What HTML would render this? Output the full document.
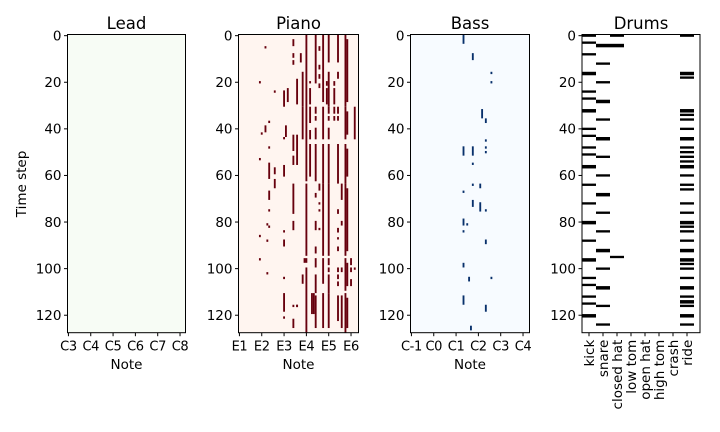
<!DOCTYPE html>
<html><head><meta charset="utf-8"><style>
html,body{margin:0;padding:0;background:#fff;}
svg{display:block;font-family:"DejaVu Sans","Liberation Sans",sans-serif;}
</style></head><body>
<svg id="chart" width="720" height="432" viewBox="0 0 720 432" xmlns="http://www.w3.org/2000/svg"></svg>
<script>
// ---- data ----
const yTicks = [0,20,40,60,80,100,120];
const leadTickLabels = ["C3","C4","C5","C6","C7","C8"];
const leadTickPitches = [48,60,72,84,96,108];
const pianoTickLabels = ["E1","E2","E3","E4","E5","E6"];
const pianoTickPitches = [28,40,52,64,76,88];
const bassTickLabels = ["C-1","C0","C1","C2","C3","C4"];
const bassTickPitches = [0,12,24,36,48,60];
const drumLabels = ["kick","snare","closed hat","low tom","open hat","high tom","crash","ride"];
const leadNotes = [];
// piano notes: [pitch, startRow, endRow]
const pianoNotes = [
[57,2,4],[57,8,9],[57,11,12],[57,43,49],[57,52,55],[57,64,76],[57,80,83],[57,116,116],[57,122,125],
[59,19,29],[59,43,43],[59,44,55],[59,116,116],
[61,8,11],[62,16,30],[62,31,44],[62,103,106],[63,96,97],
[64,0,62],[64,64,94],[64,96,97],[64,100,127],
[66,20,20],[66,23,29],[66,31,37],[66,41,44],[66,47,60],
[68,111,119],[67,111,119],
[69,0,20],[69,31,33],[69,35,36],[69,40,44],[69,47,62],[69,68,69],[69,80,83],[69,91,93],[69,96,99],[69,103,110],[69,112,125],
[71,5,6],[71,13,14],[71,17,18],[71,21,22],[71,64,66],[71,72,72],[71,75,75],[71,83,83],
[73,0,28],[73,31,44],[73,47,63],[73,64,94],[73,96,106],[73,111,125],
[75,20,21],[75,23,29],
[76,0,11],[76,16,30],[76,31,33],[76,35,36],[76,40,44],[76,47,63],[76,64,94],[76,96,98],[76,100,101],[76,103,110],[76,111,125],
[79,20,21],[79,23,29],[79,31,33],[79,35,36],
[81,0,11],[81,16,18],[81,31,33],[81,35,36],[81,47,63],[81,75,76],[81,83,84],[81,87,87],[81,91,92],[81,100,101],[81,103,104],[81,106,107],[81,112,122],
[83,64,70],[83,80,81],[83,100,101],[83,112,125],
[85,0,30],[86,2,28],[85,31,44],[86,33,42],[85,47,63],[86,49,60],[85,64,94],[86,66,92],[85,96,109],[86,98,107],[85,111,127],[86,113,125],
[88,96,98],[88,100,101],[88,105,107],
[90,31,44],[90,100,100],
[42,5,5],[39,20,20],[47,24,24],[44,37,37],[42,39,41],[40,42,42],[52,24,30],[54,23,28],[53,39,43],[52,44,44],
[44,48,48],[39,53,53],[44,55,61],[47,57,59],[52,56,60],[47,62,65],[44,67,70],[44,75,75],
[43,81,81],[44,82,82],[39,86,86],[43,88,88],[39,96,96],[43,102,102],[52,84,84],[52,88,90],[52,104,104],[52,111,118],[52,121,121],[59,116,116]
];
// bass notes: [pitch, startRow, endRow]
const bassNotes = [
[28,0,3],[33,8,10],[43,16,16],[43,20,20],[38,32,35],[40,36,37],[40,45,45],[40,48,48],[28,48,51],[33,48,51],[40,50,50],
[33,55,55],[33,64,64],[37,64,65],[28,67,67],[33,71,73],[37,72,75],[40,75,75],[28,79,81],[30,81,81],[28,84,84],
[40,88,89],[28,98,99],[31,104,105],[43,104,104],[28,112,115],[40,116,118],[32,125,126]
];
// drum hits: [drumIndex, startRow, endRow]
const drumHits = [
[0,0,0],[0,3,3],[0,8,8],[0,16,16.5],[0,24,24],[0,27,27],[0,32,32.5],[0,40,40],[0,43,43],[0,48,48],[0,51,51],[0,56,56.5],
[0,64,64],[0,72,72],[0,80,80.5],[0,88,88],[0,96,96.5],[0,104,104],[0,107,107],[0,112,112],[0,115,115],[0,120,120.5],
[1,4,4.5],[1,12,12],[1,20,20],[1,28,28.5],[1,36,36],[1,44,44.5],[1,52,52],[1,60,60],[1,68,68.5],[1,76,76],[1,84,84],[1,92,92.5],[1,100,100],[1,108,108.5],[1,116,116],[1,124,124],
[2,0,0],[2,4,4.5],[2,95,95],
[7,0,0],[7,16,16.5],[7,18,18],[7,32,32.5],[7,34,34],[7,36,36],[7,40,40],[7,44,44.5],[7,48,48],[7,50,50],[7,52,52],[7,54,54],[7,56,56.5],[7,60,60],
[7,64,64],[7,66,66],[7,72,72],[7,76,76],[7,80,80.5],[7,82,82],[7,84,84],[7,88,88],[7,92,92.5],[7,96,96.5],[7,98,98],[7,100,100],[7,104,104],
[7,108,108.5],[7,112,112],[7,114,114.5],[7,116,116],[7,120,120.5],[7,124,124]
];

// ---- layout ----
const svg = document.getElementById('chart');
const NS = 'http://www.w3.org/2000/svg';
const top0 = 34.5, bot0 = 332.7, nRows = 128;
const rowH = (bot0 - top0) / nRows;
function yRow(r){ return top0 + r*rowH; }
function mk(tag, attrs, parent){
  const e = document.createElementNS(NS, tag);
  for (const k in attrs) e.setAttribute(k, attrs[k]);
  (parent||svg).appendChild(e);
  return e;
}
const panels = [
 {key:'lead', title:'Lead', x0:67.5, x1:185.5, low:48, w:1.86, bg:'#f7fcf5', fg:'#00441b', notes:leadNotes, ticks:leadTickPitches, labels:leadTickLabels},
 {key:'piano', title:'Piano', x0:238.5, x1:358.5, low:28, w:1.86, bg:'#fff5f0', fg:'#67000d', notes:pianoNotes, ticks:pianoTickPitches, labels:pianoTickLabels},
 {key:'bass', title:'Bass', x0:410.5, x1:529.5, low:0, w:1.86, bg:'#f7fbff', fg:'#08306b', notes:bassNotes, ticks:bassTickPitches, labels:bassTickLabels},
 {key:'drums', title:'Drums', x0:582, x1:700, low:0, w:14, bg:'#ffffff', fg:'#000000', notes:drumHits, ticks:drumLabels.map((d,i)=>i), labels:drumLabels}
];
panels.forEach(p => {
  const xOf = v => p.x0 + (v - p.low) * p.w;
  const g = mk('g', {});
  
  
  const bg = mk('rect', {x:p.x0, y:top0, width:p.x1-p.x0, height:bot0-top0, fill:p.bg}, g);
  
  
  p.notes.forEach(n => {
    const r = mk('rect', {x:xOf(n[0]), y:yRow(n[1]), width:p.w, height:(n[2]-n[1]+1)*rowH, fill:p.fg}, g);
    
    
  });
  const fr = mk('rect', {x:p.x0, y:top0, width:p.x1-p.x0, height:bot0-top0, fill:'none', stroke:'#000', 'stroke-width':1}, g);
  
  
  const t = mk('text', {x:(p.x0+p.x1)/2, y:29, 'text-anchor':'middle', 'font-size':16.5, fill:'#000'}, g);
  t.textContent = p.title;
  
  
  yTicks.forEach(v => {
    const yy = yRow(v + 0.5);
    mk('line', {x1:p.x0-3.5, x2:p.x0, y1:yy, y2:yy, stroke:'#000', 'stroke-width':1}, g);
    const lt = mk('text', {x:p.x0-6, y:yy+4.8, 'text-anchor':'end', 'font-size':13.5, fill:'#000'}, g);
    lt.textContent = v;
    
    
  });
  p.ticks.forEach((v, i) => {
    const xx = xOf(v) + p.w/2;
    mk('line', {x1:xx, x2:xx, y1:bot0, y2:bot0+3.5, stroke:'#000', 'stroke-width':1}, g);
    let lt;
    if (p.key === 'drums') {
      lt = mk('text', {x:0, y:0, 'text-anchor':'end', 'font-size':13.5, fill:'#000', transform:`translate(${xx+5},${bot0+7}) rotate(-90)`}, g);
    } else {
      lt = mk('text', {x:xx, y:bot0+18, 'text-anchor':'middle', 'font-size':13, 'letter-spacing':-0.4, fill:'#000'}, g);
    }
    lt.textContent = p.labels[i];
    
    
  });
  if (p.key !== 'drums') {
    const xl = mk('text', {x:(p.x0+p.x1)/2, y:369, 'text-anchor':'middle', 'font-size':13.5, fill:'#000'}, g);
    xl.textContent = 'Note';
    
    
  }
});
const yl = mk('text', {x:0, y:0, 'text-anchor':'middle', 'font-size':13.5, fill:'#000', transform:'translate(26,184) rotate(-90)'});
yl.textContent = 'Time step';


</script>
</body></html>
